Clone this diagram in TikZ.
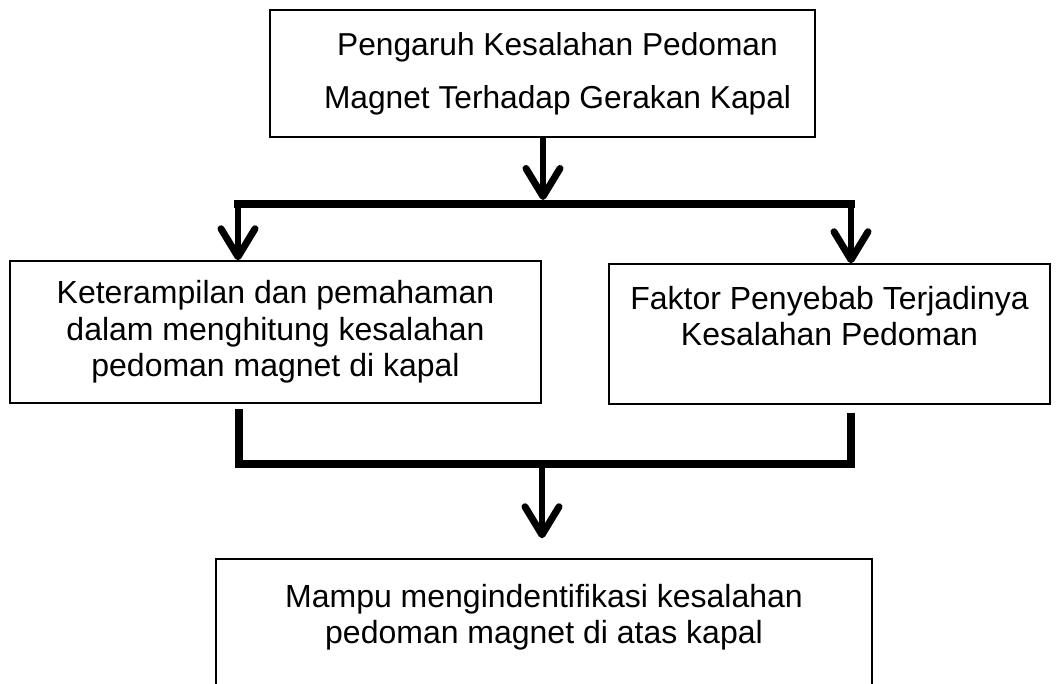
\documentclass[tikz,border=0pt]{standalone}
\usepackage{fontspec}
\setmainfont{Liberation Sans}
\usetikzlibrary{arrows.meta}
\begin{document}
\begin{tikzpicture}[x=1pt,y=-1pt,
  box/.style={draw, line width=1.5pt, rectangle, inner sep=0pt, align=center,
    font=\fontsize{32}{36.5}\selectfont},
  conn/.style={line width=7.5pt},
  arr/.style={line width=6pt, -{Straight Barb[length=28pt,width=34pt,line width=7pt,round]}}]
\useasboundingbox (0,0) rectangle (1062,683);
\node[box, minimum width=545pt, minimum height=127pt, font=\fontsize{31.7}{53}\selectfont] (top) at (542.5,73.5)
  {\hspace*{30pt}Pengaruh Kesalahan Pedoman\\\hspace*{30pt}Magnet Terhadap Gerakan Kapal};
\node[box, minimum width=531pt, minimum height=142pt] (L) at (275.5,332)
  {Keterampilan dan pemahaman\\dalam menghitung kesalahan\\pedoman magnet di kapal};
\node[box, minimum width=441pt, minimum height=140pt] (R) at (829.5,334)
  {Faktor Penyebab Terjadinya\\Kesalahan Pedoman\\\mbox{}};
\node[box, minimum width=656pt, minimum height=146pt] (B) at (544,632)
  {Mampu mengindentifikasi kesalahan\\pedoman magnet di atas kapal\\\mbox{}};
% upper junction
\coordinate (jT) at (543,204);
\coordinate (jL) at (238,204);
\coordinate (jR) at (851,204);
\draw[arr] (top.south -| jT) -- ([yshift=4pt]jT);
\draw[conn, line cap=rect] (jL) -- (jR);
\draw[arr] ([yshift=4pt]jL) -- (jL |- L.north);
\draw[arr] ([yshift=4pt]jR) -- (jR |- R.north);
% lower junction
\coordinate (kL) at (239,464);
\coordinate (kR) at (851,464);
\coordinate (kM) at (542,464);
\draw[conn] ([yshift=-5pt]L.south -| kL) -- (kL) -- (kR) -- ([yshift=-8pt]R.south -| kR);
\draw[arr] (kM) -- ([yshift=20pt]B.north -| kM);
\end{tikzpicture}
\end{document}
